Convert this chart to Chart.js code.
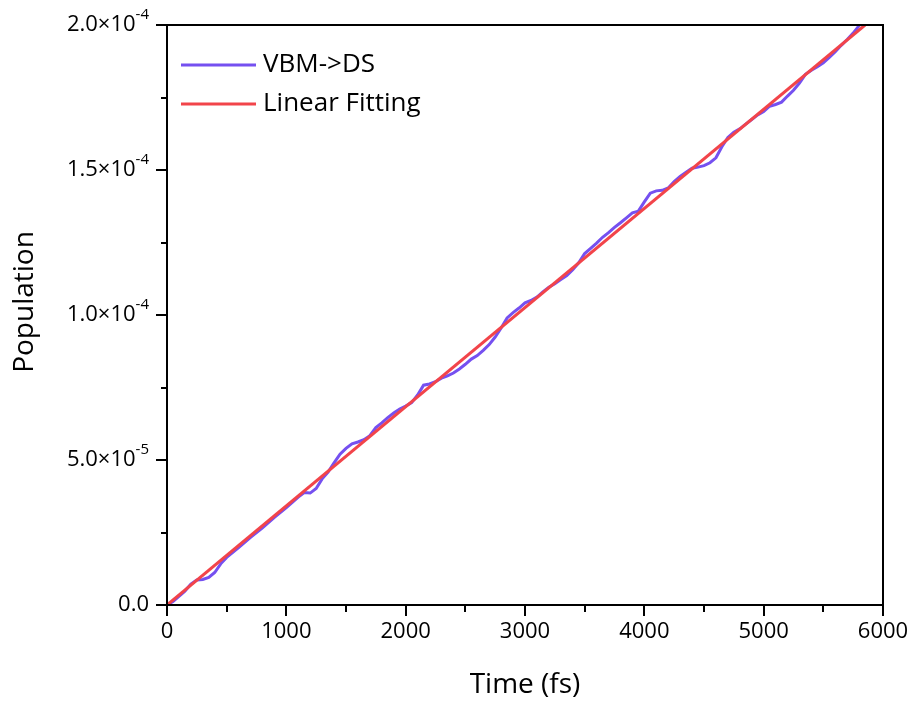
<!DOCTYPE html>
<html>
<head>
<meta charset="utf-8">
<script src="https://cdn.jsdelivr.net/npm/chart.js@4.4.1/dist/chart.umd.min.js"></script>
<style>
  html, body { margin: 0; padding: 0; background: #fff; }
</style>
</head>
<body>
<canvas id="myChart" width="916" height="702"></canvas>
<script>
  // VBM->DS population vs time (population values in units of 1e-5)
  var timeFs = [0, 50, 100, 150, 200, 250, 300, 350, 400, 450, 500, 600, 700, 800, 900, 1000,
    1100, 1150, 1200, 1250, 1300, 1350, 1400, 1450, 1500, 1550, 1600, 1650, 1700, 1750, 1800, 1850, 1900, 1950,
    2000, 2050, 2100, 2150, 2200, 2250, 2300, 2350, 2400, 2450, 2500, 2550, 2600, 2650, 2700, 2750, 2800, 2850, 2900, 2950,
    3000, 3050, 3100, 3150, 3200, 3250, 3300, 3350, 3400, 3450, 3500, 3550, 3600, 3650, 3700, 3750, 3800, 3850, 3900, 3950,
    4000, 4050, 4100, 4150, 4200, 4250, 4300, 4350, 4400, 4450, 4500, 4550, 4600, 4650, 4700, 4750, 4800, 4850, 4900, 4950,
    5000, 5050, 5100, 5150, 5200, 5250, 5300, 5350, 5400, 5450, 5500, 5550, 5600, 5650, 5700, 5750, 5800, 5850];
  var popE5 = [0, 0.12, 0.30, 0.48, 0.72, 0.86, 0.88, 0.95, 1.12, 1.42, 1.64, 1.98, 2.33, 2.66, 3.02, 3.36,
    3.72, 3.88, 3.86, 4.02, 4.35, 4.58, 4.90, 5.20, 5.40, 5.56, 5.62, 5.70, 5.84, 6.12, 6.28, 6.46, 6.62, 6.76,
    6.86, 6.98, 7.24, 7.58, 7.62, 7.70, 7.82, 7.90, 8.00, 8.14, 8.30, 8.48, 8.60, 8.78, 8.98, 9.24, 9.55, 9.90, 10.08, 10.24,
    10.42, 10.50, 10.62, 10.80, 10.96, 11.08, 11.22, 11.36, 11.56, 11.80, 12.12, 12.30, 12.48, 12.68, 12.84, 13.02, 13.18, 13.35, 13.52, 13.58,
    13.90, 14.20, 14.28, 14.30, 14.38, 14.60, 14.78, 14.92, 15.06, 15.10, 15.15, 15.25, 15.42, 15.80, 16.12, 16.30, 16.42, 16.58, 16.74, 16.90,
    17.02, 17.20, 17.26, 17.34, 17.55, 17.75, 18.00, 18.30, 18.44, 18.56, 18.70, 18.88, 19.08, 19.30, 19.50, 19.72, 19.98, 20.20];

  // linear fitting end points
  var fitTime = [0, 5850];
  var fitE5 = [0, 20.0];

  var xMinorTicks = [500, 1500, 2500, 3500, 4500, 5500];
  var yTickValues = [0, 5e-5, 1e-4, 1.5e-4, 2e-4];
  var yTickBase = ['0.0', '5.0\u00d710', '1.0\u00d710', '1.5\u00d710', '2.0\u00d710'];
  var yTickExp = ['', '-5', '-4', '-4', '-4'];
  var yMinorTicks = [2.5e-5, 7.5e-5, 1.25e-4, 1.75e-4];

  var seriesNames = ['VBM->DS', 'Linear Fitting'];
  var blue = '#7550f0';
  var red = '#f2444a';
  var fontFam = '"Open Sans", sans-serif';

  function toPoints(xs, ys) {
    var pts = [];
    for (var i = 0; i < xs.length; i++) {
      pts.push({ x: xs[i], y: ys[i] * 1e-5 });
    }
    return pts;
  }

  var framePlugin = {
    id: 'frame',
    afterDraw: function(chart) {
      var c = chart.ctx;
      var a = chart.chartArea;
      var xs = chart.scales.x, ys = chart.scales.y;
      c.save();
      c.strokeStyle = '#000';
      c.lineWidth = 2;
      c.strokeRect(a.left, a.top, a.right - a.left, a.bottom - a.top);

      // minor ticks + y major ticks
      c.beginPath();
      xMinorTicks.forEach(function(v) {
        var px = Math.round(xs.getPixelForValue(v));
        c.moveTo(px, a.bottom);
        c.lineTo(px, a.bottom + 7);
      });
      yMinorTicks.forEach(function(v) {
        var py = Math.round(ys.getPixelForValue(v));
        c.moveTo(a.left, py);
        c.lineTo(a.left - 6, py);
      });
      yTickValues.forEach(function(v) {
        var py = Math.round(ys.getPixelForValue(v));
        c.moveTo(a.left, py);
        c.lineTo(a.left - 11, py);
      });
      c.stroke();

      // y tick labels with superscript exponent
      c.fillStyle = '#000';
      c.textBaseline = 'middle';
      c.textAlign = 'left';
      var rightEdge = a.left - 18;
      for (var i = 0; i < yTickValues.length; i++) {
        var py = ys.getPixelForValue(yTickValues[i]);
        c.font = '22px ' + fontFam;
        var w1 = c.measureText(yTickBase[i]).width;
        c.font = '15px ' + fontFam;
        var w2 = c.measureText(yTickExp[i]).width;
        c.font = '22px ' + fontFam;
        c.fillText(yTickBase[i], rightEdge - w2 - w1, py);
        c.font = '15px ' + fontFam;
        c.fillText(yTickExp[i], rightEdge - w2, py - 10);
      }

      // y axis title
      c.save();
      c.translate(25, 302);
      c.rotate(-Math.PI / 2);
      c.textAlign = 'center';
      c.font = '28px ' + fontFam;
      c.fillText('Population', 0, 0);
      c.restore();

      // legend
      var colors = [blue, red];
      var ly = [65, 104];
      c.font = '26px ' + fontFam;
      for (var j = 0; j < seriesNames.length; j++) {
        c.strokeStyle = colors[j];
        c.lineWidth = 3;
        c.beginPath();
        c.moveTo(181, ly[j]);
        c.lineTo(256, ly[j]);
        c.stroke();
        c.fillStyle = '#000';
        c.fillText(seriesNames[j], 263, ly[j]);
      }
      c.restore();
    }
  };

  var ctx = document.getElementById('myChart').getContext('2d');
  var myChart = new Chart(ctx, {
    type: 'line',
    data: {
      datasets: [{
        label: seriesNames[1],
        data: toPoints(fitTime, fitE5),
        borderColor: red,
        borderWidth: 3,
        pointRadius: 0,
        order: 0
      }, {
        label: seriesNames[0],
        data: toPoints(timeFs, popE5),
        borderColor: blue,
        borderWidth: 3,
        pointRadius: 0,
        order: 1
      }]
    },
    options: {
      responsive: false,
      animation: false,
      devicePixelRatio: 1,
      layout: { padding: { top: 25, right: 33, left: 0, bottom: 0 } },
      plugins: { legend: { display: false }, tooltip: { enabled: false } },
      scales: {
        x: {
          type: 'linear',
          min: 0,
          max: 6000,
          ticks: {
            stepSize: 1000, color: '#000', font: { family: fontFam, size: 22 }, padding: 3, maxRotation: 0,
            callback: function(v) { return String(v); }
          },
          grid: { drawOnChartArea: false, color: '#000', lineWidth: 2, tickLength: 11 },
          border: { color: '#000', width: 2 },
          title: { display: true, text: 'Time (fs)', color: '#000', font: { family: fontFam, size: 28 }, padding: { top: 0, bottom: 0 } },
          afterFit: function(s) { s.height = 97; }
        },
        y: {
          type: 'linear',
          min: 0,
          max: 2e-4,
          ticks: { stepSize: 5e-5, display: false },
          grid: { display: false },
          border: { color: '#000', width: 2 },
          title: { display: false },
          afterFit: function(s) { s.width = 167; }
        }
      }
    },
    plugins: [framePlugin]
  });
</script>
</body>
</html>
